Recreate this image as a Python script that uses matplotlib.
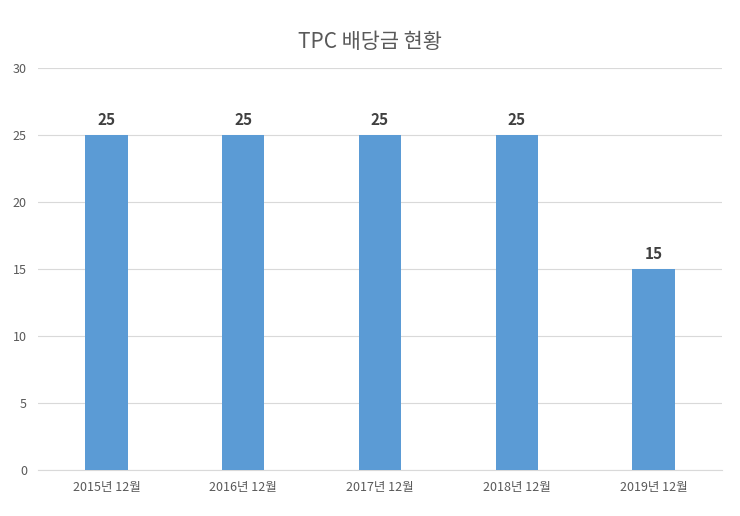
import matplotlib
matplotlib.use('Agg')
from matplotlib import pyplot as plt

plt.rcParams['font.family'] = ['Noto Sans CJK KR', 'DejaVu Sans']

categories = ['2015년 12월', '2016년 12월', '2017년 12월', '2018년 12월', '2019년 12월']
dividends = [25, 25, 25, 25, 15]

fig = plt.figure(figsize=(7.4, 5.16), dpi=100)
ax = fig.add_axes([38 / 740, 46 / 516, 684 / 740, 402 / 516])

x = range(len(categories))
bars = ax.bar(x, dividends, width=0.31, color='#5b9bd5', zorder=3)
for xi, v in zip(x, dividends):
    ax.text(xi, v + 0.5, str(v), ha='center', va='bottom', fontsize=11,
            fontweight='bold', color='#404040')

ax.set_xlim(-0.5, len(categories) - 0.5)
ax.set_ylim(0, 30)
ax.set_yticks(range(0, 31, 5))
ax.set_xticks(list(x))
ax.set_xticklabels(categories)
ax.grid(axis='y', color='#d9d9d9', linewidth=0.8, zorder=0)
for s in ['top', 'right', 'left']:
    ax.spines[s].set_visible(False)
ax.spines['bottom'].set_color('#d9d9d9')
ax.tick_params(length=0, labelsize=9, colors='#595959', pad=8)

fig.text(0.5, 42 / 516 * -1 + 1, 'TPC 배당금 현황', ha='center', va='center',
         fontsize=15, color='#595959')

fig.savefig('out.png')
